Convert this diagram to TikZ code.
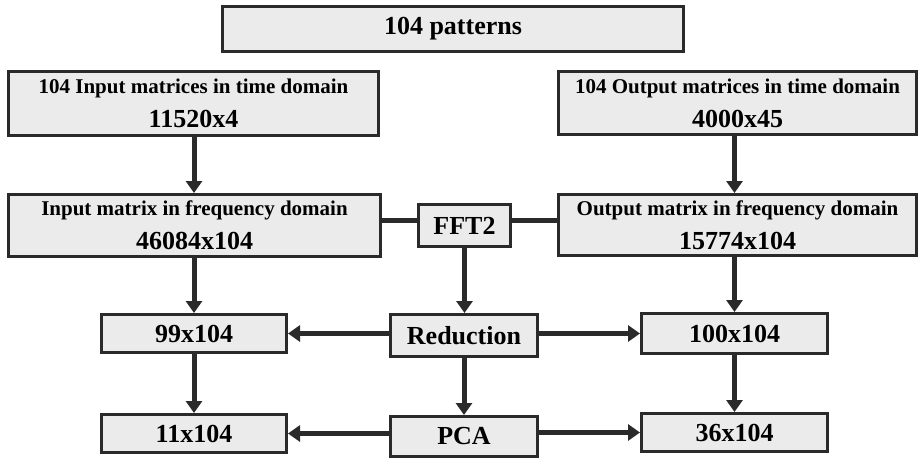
\documentclass[tikz,border=0pt]{standalone}
\usepackage{fontspec}
\setmainfont{Liberation Serif}
\usetikzlibrary{arrows.meta}
\definecolor{boxfill}{HTML}{EBEBEB}
\definecolor{boxline}{HTML}{2A2A2A}
\tikzset{
  box/.style={draw=boxline, fill=boxfill, line width=3pt, inner sep=0pt, align=center,
    font=\bfseries\fontsize{26}{32}\selectfont},
  conn/.style={draw=boxline, line width=5pt},
  arr/.style={conn, -{Triangle[length=12pt,width=16pt]}},
}
\newcommand{\firstline}[1]{{\fontsize{21}{25}\selectfont #1}}
\begin{document}
\begin{tikzpicture}[x=1pt,y=-1pt]
\useasboundingbox (0,0) rectangle (921,460);
\node[box, minimum width=461, minimum height=45] (top) at (453,29) {104 patterns};
\node[box, minimum width=370, minimum height=64] (inT) at (193.5,103.5)
  {\firstline{104 Input matrices in time domain}\\[2pt] 11520x4};
\node[box, minimum width=358, minimum height=63] (outT) at (737.5,103)
  {\firstline{104 Output matrices in time domain}\\[2pt] 4000x45};
\node[box, minimum width=372, minimum height=62] (inF) at (194.5,225.5)
  {\firstline{Input matrix in frequency domain}\\[2pt] 46084x104};
\node[box, minimum width=358, minimum height=61] (outF) at (737.5,225)
  {\firstline{Output matrix in frequency domain}\\[2pt] 15774x104};
\node[box, minimum width=92, minimum height=42] (fft) at (464.5,225.5) {FFT2};
\node[box, minimum width=185, minimum height=38] (r99) at (194,333.5) {99x104};
\node[box, minimum width=185, minimum height=38] (r11) at (194,433.5) {11x104};
\node[box, minimum width=147, minimum height=42] (red) at (464,335.5) {Reduction};
\node[box, minimum width=147, minimum height=40] (pca) at (464,436.5) {PCA};
\node[box, minimum width=186, minimum height=40] (r100) at (734.5,333.5) {100x104};
\node[box, minimum width=186, minimum height=38] (r36) at (734.5,432.5) {36x104};
% vertical arrows, left column
\draw[arr] (inT.south -| r99.north) -- (inF.north -| r99.north);
\draw[arr] (inF.south -| r99.north) -- (r99.north);
\draw[arr] (r99.south) -- (r11.north);
% vertical arrows, right column
\draw[arr] (outT.south -| r100.north) -- (outF.north -| r100.north);
\draw[arr] (outF.south -| r100.north) -- (r100.north);
\draw[arr] (r100.south) -- (r36.north);
% middle column
\draw[arr] (fft.south) -- (red.north -| fft.south);
\draw[arr] (red.south) -- (pca.north);
% FFT2 side lines
\coordinate (fy) at (0,220);
\draw[conn] (inF.east |- fy) -- (fft.west |- fy);
\draw[conn] (fft.east |- fy) -- (outF.west |- fy);
% horizontal arrows
\draw[arr] (red.west |- r99.east) -- (r99.east);
\draw[arr] (red.east |- r100.west) -- (r100.west);
\draw[arr] (pca.west |- r11.east) -- (r11.east);
\draw[arr] (pca.east |- r36.west) -- (r36.west);
\end{tikzpicture}
\end{document}
